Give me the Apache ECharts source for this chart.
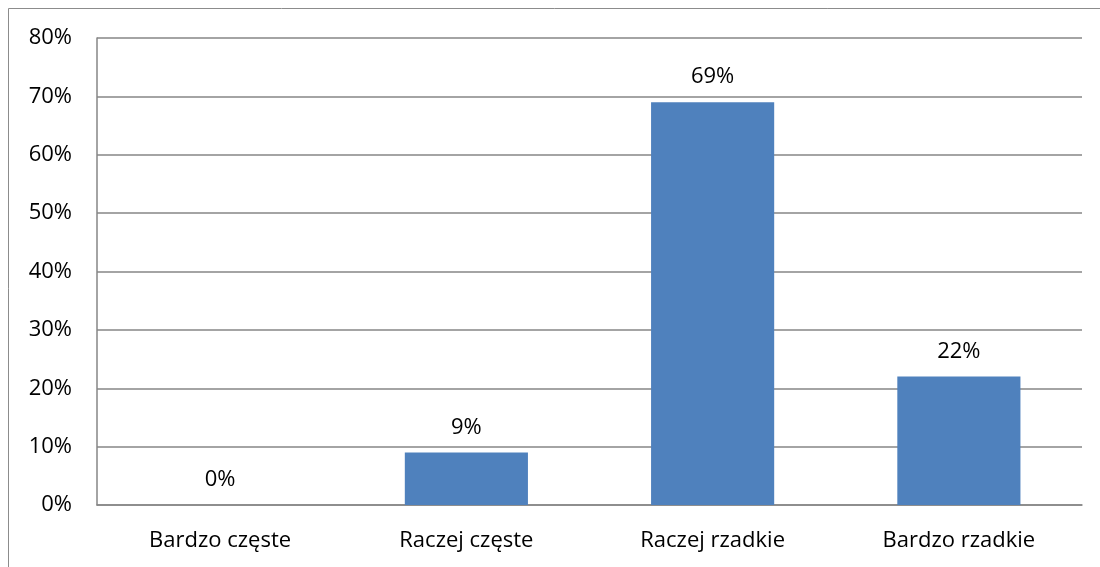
<!DOCTYPE html>
<html>
<head>
<meta charset="utf-8">
<script src="https://cdn.jsdelivr.net/npm/echarts@6/dist/echarts.min.js"></script>
<style>
html,body{margin:0;padding:0;background:#fff;}
#c{width:1100px;height:567px;}
</style>
</head>
<body>
<div id="c"></div>
<script>
const categories = ["Bardzo częste", "Raczej częste", "Raczej rzadkie", "Bardzo rzadkie"];
const values = [0, 9, 69, 22];
const yTicks = [0, 10, 20, 30, 40, 50, 60, 70, 80];

const chart = echarts.init(document.getElementById('c'), null, {renderer: 'canvas'});
const font = "'Open Sans', 'Liberation Sans', sans-serif";
const fs = 22;
chart.setOption({
  animation: false,
  backgroundColor: '#ffffff',
  graphic: [{
    type: 'rect',
    shape: {x: 8.5, y: 8.5, width: 1100, height: 570},
    style: {fill: 'none', stroke: '#8c8c8c', lineWidth: 1},
    silent: true
  }],
  grid: {left: 97, right: 18, top: 38, bottom: 62, containLabel: false},
  xAxis: {
    type: 'category',
    data: categories,
    axisLine: {show: true, lineStyle: {color: '#868686', width: 1.5}},
    axisTick: {show: false},
    axisLabel: {color: '#000', fontFamily: font, fontSize: fs, margin: 25}
  },
  yAxis: {
    type: 'value',
    min: yTicks[0],
    max: yTicks[yTicks.length - 1],
    interval: 10,
    axisLine: {show: true, lineStyle: {color: '#868686', width: 1.5}},
    axisTick: {show: false},
    splitLine: {show: true, lineStyle: {color: '#868686', width: 1.5}},
    axisLabel: {color: '#000', fontFamily: font, fontSize: fs, margin: 25, formatter: v => v + '%'}
  },
  series: [{
    type: 'bar',
    data: values,
    barWidth: '50%',
    itemStyle: {color: '#4F81BD'},
    label: {
      show: true,
      position: 'top',
      distance: 14,
      color: '#000',
      fontFamily: font,
      fontSize: fs,
      formatter: p => p.value + '%'
    }
  }]
});
</script>
</body>
</html>
